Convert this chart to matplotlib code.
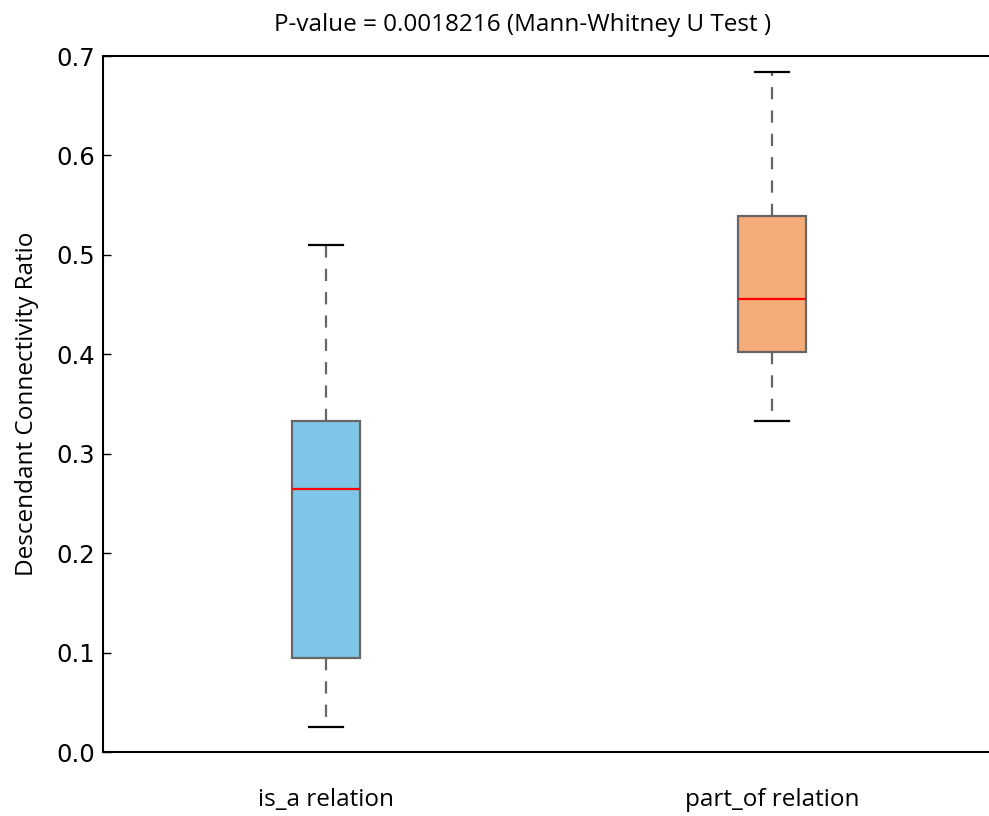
import matplotlib
matplotlib.use("Agg")
import matplotlib.pyplot as plt

# Summary statistics
labels = ['is_a relation', 'part_of relation']
whislo = [0.025, 0.333]
q1 = [0.0945, 0.4023]
med = [0.2645, 0.4556]
q3 = [0.333, 0.539]
whishi = [0.510, 0.684]
colors = ['#7fc5e7', '#f5ac78']

stats = []
for i in range(len(labels)):
    stats.append({'label': labels[i], 'whislo': whislo[i], 'q1': q1[i],
                  'med': med[i], 'q3': q3[i], 'whishi': whishi[i], 'fliers': []})

fig = plt.figure(figsize=(9.89, 8.16), dpi=100)
ax = fig.add_axes([103 / 989, 64 / 816, 892 / 989, 696 / 816])

bp = ax.bxp(stats, positions=[1, 2], widths=0.152, patch_artist=True,
            showfliers=False,
            boxprops=dict(edgecolor='#666666', linewidth=1.6),
            medianprops=dict(color='red', linewidth=1.6),
            whiskerprops=dict(color='#666666', linewidth=1.6, linestyle=(0, (5.5, 5))),
            capprops=dict(color='black', linewidth=1.6),
            capwidths=0.078)
for patch, c in zip(bp['boxes'], colors):
    patch.set_facecolor(c)

ax.set_xlim(0.5, 2.5)
ax.set_ylim(0, 0.7)
ax.set_yticks([0.0, 0.1, 0.2, 0.3, 0.4, 0.5, 0.6, 0.7])
ax.set_yticklabels(['0.0', '0.1', '0.2', '0.3', '0.4', '0.5', '0.6', '0.7'])
ax.tick_params(axis='y', direction='in', length=6, width=1, labelsize=17.5, pad=6)
ax.tick_params(axis='x', length=0, pad=26)
for t in ax.get_xticklabels():
    t.set_fontfamily('Open Sans')
    t.set_fontsize(17.5)
for s in ['top', 'bottom', 'left']:
    ax.spines[s].set_linewidth(1.5)
ax.spines['right'].set_visible(False)

ax.set_ylabel('Descendant Connectivity Ratio', fontfamily='Open Sans', fontsize=17.5, labelpad=12)
ax.set_title('P-value = 0.0018216 (Mann-Whitney U Test )', fontfamily='Open Sans',
             fontsize=17.5, pad=18)
# title centred over visible part of the figure
ax.title.set_x((523 - 103) / 892)

plt.savefig('out.png', dpi=100)
